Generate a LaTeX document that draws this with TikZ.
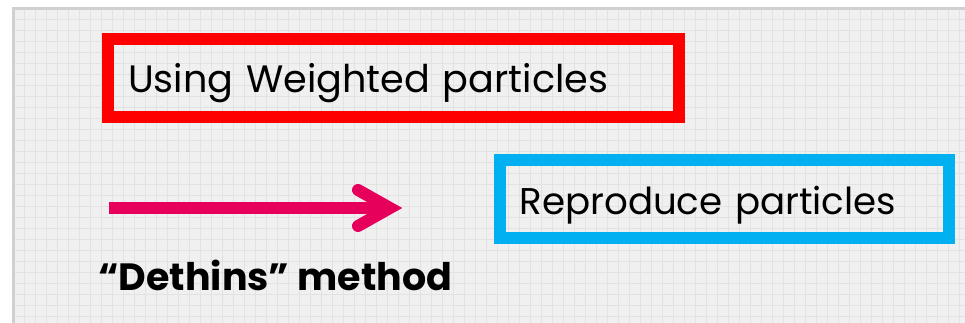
\documentclass[tikz,border=0pt]{standalone}
\usepackage{fontspec}
\setmainfont{Poppins}
\usepackage{xcolor}
\usepackage{tikz}
\usetikzlibrary{arrows.meta, positioning}
\definecolor{PanelGray}{RGB}{240, 240, 240}
\definecolor{GridGray}{RGB}{226, 226, 226}
\definecolor{EdgeGray}{RGB}{208, 208, 208}
\definecolor{BoxRed}{RGB}{255, 0, 0}
\definecolor{BoxBlue}{RGB}{0, 176, 240}
\definecolor{Crimson}{RGB}{230, 0, 92}

\begin{document}
\begin{tikzpicture}[
    x=1pt, y=-1pt,
    framebox/.style={rectangle, draw=#1, line width=12pt, align=left, inner xsep=20pt,
        text height=30pt, text depth=0pt},
    bigarrow/.style={line width=12pt, color=Crimson},
    chevron/.style={line width=12pt, color=Crimson, line cap=round, line join=miter},
    caption/.style={anchor=base west, inner sep=0pt, font=\fontsize{38}{44}\selectfont\bfseries}
]
    % Slide panel with grid paper
    \useasboundingbox (0, 0) rectangle (965, 323);
    \fill[PanelGray] (13.5, 8.5) rectangle (965, 323);
    \draw[GridGray, line width=0.8pt, step=11pt, shift={(13.5, 8.5)}] (0, 0) grid (955, 320);
    \draw[EdgeGray, line width=3pt] (13.5, 323) -- (13.5, 8.5) -- (965, 8.5);

    % Boxes
    \node[framebox=BoxRed, minimum width=571pt, minimum height=78pt, text width=531pt,
        font=\fontsize{38.2}{44}\selectfont] (weighted) at (393.5, 78) {Using Weighted particles};
    \node[framebox=BoxBlue, minimum width=449pt, minimum height=77pt, text width=409pt,
        font=\fontsize{37.2}{44}\selectfont] (reproduce) at (724, 199) {Reproduce particles};

    % Arrow
    \coordinate (arrowstart) at (109, 208);
    \coordinate (arrowtip) at (390, 208);
    \draw[bigarrow] (arrowstart) -- (arrowtip);
    \draw[chevron] ([shift={(-32, -18)}]arrowtip) -- (arrowtip) -- ([shift={(-32, 18)}]arrowtip);

    % Method label
    \node[caption] (dethins) at (98, 290) {“Dethins” method};

\end{tikzpicture}
\end{document}
